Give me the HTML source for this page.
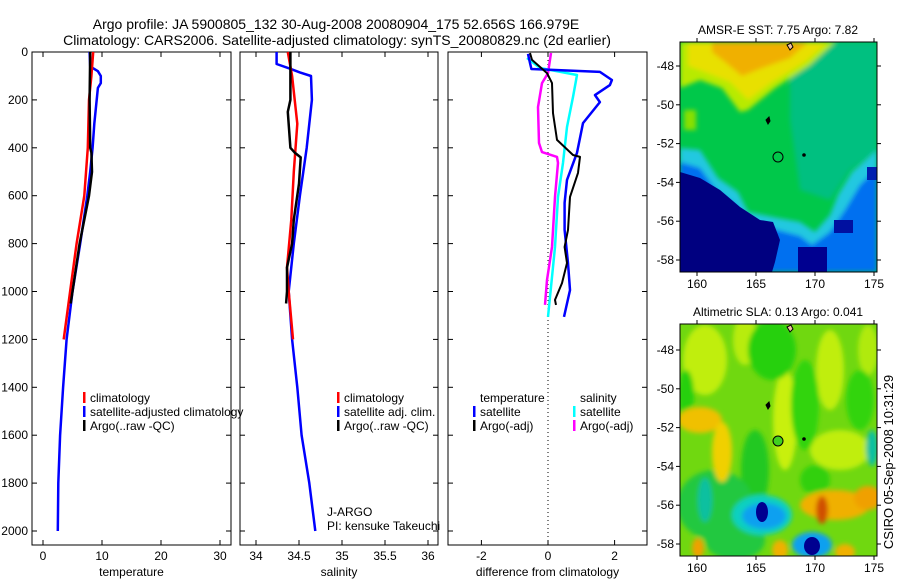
<!DOCTYPE html>
<html><head><meta charset="utf-8"><style>
html,body{margin:0;padding:0;background:#fff;}
svg{display:block;font-family:"Liberation Sans",sans-serif;}
</style></head><body>
<svg id="fig" width="900" height="580" viewBox="0 0 900 580" xmlns="http://www.w3.org/2000/svg">
<defs>
<clipPath id="m1c"><rect x="680" y="42" width="197" height="230"/></clipPath>
<clipPath id="m2c"><rect x="680" y="324" width="197" height="232"/></clipPath>
<filter id="bl" x="-20%" y="-20%" width="140%" height="140%"><feGaussianBlur stdDeviation="2.5"/></filter>
</defs>
<g font-size="14" text-anchor="middle">
<text x="336" y="29">Argo profile: JA 5900805_132 30-Aug-2008 20080904_175 52.656S 166.979E</text>
<text x="337" y="45">Climatology: CARS2006. Satellite-adjusted climatology: synTS_20080829.nc (2d earlier)</text>
</g>
<g id="panels"></g>

<!-- Map 1 -->
<g>
<text x="778" y="34" font-size="12" text-anchor="middle">AMSR-E SST: 7.75 Argo: 7.82</text>
<g clip-path="url(#m1c)">
<rect x="680" y="42" width="197" height="230" fill="#00c84a"/>
<g filter="url(#bl)">
<polygon points="790,42 877,42 877,150 850,170 830,200 800,190 790,120" fill="#00c080"/>
<polygon points="680,42 835,42 810,65 775,88 748,110 740,112 722,88 700,80 680,88" fill="#b8ea00"/>
<polygon points="688,42 828,42 805,62 772,82 748,100 730,82 705,72 688,66" fill="#e8e000"/>
<polygon points="712,42 808,42 790,58 762,68 742,76 725,62 712,52" fill="#f0b000"/>
<polygon points="680,148 700,150 718,178 738,192 748,212 778,218 800,222 815,232 830,215 838,195 852,172 877,150 877,272 680,272" fill="#20c8e0"/>
<polygon points="680,162 700,168 716,190 736,205 745,222 770,228 800,236 812,245 830,232 845,210 860,185 877,168 877,272 680,272" fill="#0070f0"/>
<rect x="684" y="110" width="12" height="20" fill="#88e000"/>
</g>
<polygon points="680,172 700,178 720,190 740,207 760,220 773,222 780,240 775,262 772,272 680,272" fill="#000080"/>
<rect x="798" y="247" width="29" height="25" fill="#000090"/>
<rect x="834" y="220" width="19" height="13" fill="#0010a0"/>
<rect x="867" y="167" width="10" height="13" fill="#0020b0"/>
</g>
<circle cx="778" cy="157" r="5" fill="none" stroke="#000" stroke-width="1"/>
<circle cx="804" cy="155" r="1.8" fill="#000"/>
<path d="M766,120 l3,-3 l1,4 l-2,3 z" fill="#000" stroke="#000"/>
<path d="M787,45 l4,-2 l2,4 l-3,3 z" fill="#f0c0a0" stroke="#000"/>
<rect x="680" y="42" width="197" height="230" fill="none" stroke="#000"/>
</g>

<!-- Map 2 -->
<g>
<text x="778" y="316" font-size="12" text-anchor="middle">Altimetric SLA: 0.13 Argo: 0.041</text>
<g clip-path="url(#m2c)">
<rect x="680" y="324" width="197" height="232" fill="#70d810"/>
<g filter="url(#bl)">
<ellipse cx="705" cy="360" rx="22" ry="35" fill="#c0ee10"/>
<ellipse cx="745" cy="340" rx="12" ry="25" fill="#b8ec10"/>
<ellipse cx="830" cy="370" rx="14" ry="40" fill="#c0ee10"/>
<ellipse cx="868" cy="350" rx="10" ry="25" fill="#b0ea10"/>
<ellipse cx="785" cy="420" rx="12" ry="50" fill="#c8f010"/>
<ellipse cx="840" cy="450" rx="30" ry="20" fill="#c0ee10"/>
<ellipse cx="772" cy="350" rx="24" ry="30" fill="#28d010"/>
<ellipse cx="686" cy="395" rx="8" ry="25" fill="#28d010"/>
<ellipse cx="805" cy="405" rx="14" ry="45" fill="#30d410"/>
<ellipse cx="860" cy="400" rx="14" ry="30" fill="#30d410"/>
<ellipse cx="755" cy="470" rx="14" ry="40" fill="#20c820"/>
<ellipse cx="715" cy="505" rx="38" ry="35" fill="#20c840"/>
<ellipse cx="705" cy="500" rx="7" ry="22" fill="#10c0a0"/>
<ellipse cx="735" cy="540" rx="30" ry="20" fill="#20c840"/>
<ellipse cx="815" cy="480" rx="15" ry="15" fill="#30d010"/>
<ellipse cx="872" cy="448" rx="6" ry="18" fill="#10c0a0"/>
<ellipse cx="700" cy="420" rx="22" ry="13" fill="#f0c000"/>
<ellipse cx="722" cy="452" rx="10" ry="30" fill="#f0d000"/>
<ellipse cx="835" cy="505" rx="35" ry="15" fill="#f0b000"/>
<ellipse cx="822" cy="510" rx="6" ry="14" fill="#d05000"/>
<ellipse cx="868" cy="498" rx="14" ry="12" fill="#f0a000"/>
<ellipse cx="698" cy="548" rx="6" ry="10" fill="#f0a000"/>
<ellipse cx="780" cy="550" rx="8" ry="10" fill="#f0b000"/>
<ellipse cx="845" cy="552" rx="10" ry="8" fill="#f0b000"/>
<ellipse cx="762" cy="515" rx="30" ry="20" fill="#10d0c0"/>
<ellipse cx="764" cy="516" rx="22" ry="13" fill="#10a0f0"/>
<ellipse cx="812" cy="545" rx="20" ry="13" fill="#10a0f0"/>
</g>
<ellipse cx="762" cy="512" rx="6" ry="10" fill="#000090"/>
<ellipse cx="812" cy="546" rx="8" ry="9" fill="#000090"/>
</g>
<circle cx="778" cy="441" r="5" fill="#40d020" stroke="#000" stroke-width="1"/>
<circle cx="804" cy="439" r="1.8" fill="#000"/>
<path d="M766,405 l3,-3 l1,4 l-2,3 z" fill="#000" stroke="#000"/>
<path d="M787,327 l4,-2 l2,4 l-3,3 z" fill="#f0c0a0" stroke="#000"/>
<rect x="680" y="324" width="197" height="232" fill="none" stroke="#000"/>
</g>
<text transform="translate(893,462) rotate(-90)" font-size="13" text-anchor="middle">CSIRO 05-Sep-2008 10:31:29</text>
</svg>
<script>
// ---- data ----
const tempArgoDepth = [0,200,400,420,500,600,800,1000,1050];
const tempArgo      = [8,7.9,8.0,8.2,8.3,7.8,6.2,5.0,4.7];
const tempClimDepth = [0,100,200,400,600,800,1000,1200];
const tempClim      = [8.5,8.2,7.8,7.6,7.0,5.7,4.6,3.5];
const tempSatDepth  = [0,60,80,100,130,150,300,400,500,600,800,1000,1200,1400,1600,1800,2000];
const tempSat       = [7.9,8.0,9.3,9.8,9.8,9.3,8.7,8.4,8.0,7.5,6.3,5.0,4.0,3.4,2.9,2.6,2.5];

const salSatDepth = [0,50,70,85,100,200,300,400,500,600,800,1000,1200,1400,1600,1800,2000];
const salSat      = [34.24,34.24,34.4,34.51,34.64,34.65,34.62,34.59,34.55,34.51,34.44,34.38,34.42,34.48,34.53,34.62,34.69];
const salClimDepth = [0,100,300,500,700,900,1000,1200];
const salClim      = [34.37,34.42,34.48,34.44,34.41,34.36,34.38,34.43];
const salArgoDepth = [0,200,250,400,420,440,550,700,800,900,1000,1050];
const salArgo      = [34.40,34.40,34.37,34.40,34.45,34.52,34.50,34.44,34.42,34.36,34.36,34.35];

const dTempSatDepth = [8,46,71,83,117,138,180,209,297,421,534,630,743,881,994,1106];
const dTempSat      = [-0.6,-0.54,-0.5,1.56,1.92,1.86,1.41,1.56,1.05,0.87,0.57,0.5,0.5,0.6,0.66,0.48];
const dTempArgoDepth = [4,33,88,130,255,367,430,438,505,605,743,814,881,965,1035,1056];
const dTempArgo      = [-0.54,-0.48,-0.03,0.12,0.15,0.27,0.75,0.96,0.9,0.66,0.6,0.5,0.57,0.42,0.21,0.24];
const dSalSatDepth = [25,67,96,188,313,463,605,814,1023,1106];
const dSalSat      = [-0.63,-0.24,0.87,0.75,0.57,0.45,0.3,0.21,0.06,0];
const dSalArgoDepth = [4,88,130,230,380,418,438,463,605,814,952,1056];
const dSalArgo      = [0.09,0,-0.18,-0.3,-0.27,-0.18,0.27,0.3,0.21,0.12,-0.03,-0.09];

const depthTicks = [0,200,400,600,800,1000,1200,1400,1600,1800,2000];
const tempTicks = [0,10,20,30];
const salTicks = [34,34.5,35,35.5,36];
const salTickLabels = ["34","34.5","35","35.5","36"];
const diffTicks = [-2,0,2];

// ---- axes ----
const NS="http://www.w3.org/2000/svg";
const fig=document.getElementById('panels');
const top0=52, bot=545, yScale=d=>52+d*0.2395;
function mk(tag,attrs,parent){const e=document.createElementNS(NS,tag);for(const k in attrs)e.setAttribute(k,attrs[k]);(parent||fig).appendChild(e);return e;}
function panel(name,x0,x1,xs,ticks,labels,title,showY){
  const g=mk('g',{});
  
  
  const r=mk('rect',{x:x0,y:top0,width:x1-x0,height:bot-top0,fill:'none',stroke:'#000','stroke-width':1},g);
  
  
  ticks.forEach((t,i)=>{
    const x=xs(t);
    mk('line',{x1:x,x2:x,y1:bot,y2:bot-5,stroke:'#000'},g);
    mk('line',{x1:x,x2:x,y1:top0,y2:top0+5,stroke:'#000'},g);
    const tx=mk('text',{x:x,y:bot+15,'font-size':12,'text-anchor':'middle'},g);
    tx.textContent=labels[i];
    
    
  });
  depthTicks.forEach(d=>{
    const y=yScale(d);
    mk('line',{x1:x0,x2:x0+5,y1:y,y2:y,stroke:'#000'},g);
    mk('line',{x1:x1,x2:x1-5,y1:y,y2:y,stroke:'#000'},g);
    if(showY){const tx=mk('text',{x:x0-4,y:y+4,'font-size':12,'text-anchor':'end'},g);tx.textContent=d;
      
      }
  });
  const at=mk('text',{x:(x0+x1)/2,y:576,'font-size':12,'text-anchor':'middle'},g);
  at.textContent=title;
  
  
  return g;
}
function line(g,name,xs,vals,depths,color,w){
  const pts=vals.map((v,i)=>xs(v).toFixed(1)+','+yScale(depths[i]).toFixed(1)).join(' ');
  const p=mk('polyline',{points:pts,fill:'none',stroke:color,'stroke-width':w||2.5,'stroke-linejoin':'round'},g);
  
  
}
function legend(g,x,y,items){
  items.forEach((it,i)=>{
    const yy=y+i*14;
    if(it[1]) mk('rect',{x:x,y:yy-10,width:2.5,height:11,fill:it[1]},g);
    const t=mk('text',{x:x+7,y:yy,'font-size':12},g);t.textContent=it[0];
    
    
  });
}
// temperature panel
const xT=v=>43+v*5.9;
const gT=panel('temperature',32,231,xT,tempTicks,tempTicks.map(String),'temperature',true);
line(gT,'temp-satellite-line',xT,tempSat,tempSatDepth,'#0000ff');
line(gT,'temp-climatology-line',xT,tempClim,tempClimDepth,'#ff0000');
line(gT,'temp-argo-line',xT,tempArgo,tempArgoDepth,'#000000');
legend(gT,83,402,[['climatology','#f00'],['satellite-adjusted climatology','#00f'],['Argo(..raw -QC)','#000']]);
// salinity panel
const xS=v=>256+(v-34)*86;
const gS=panel('salinity',240,438,xS,salTicks,salTickLabels,'salinity',false);
line(gS,'sal-satellite-line',xS,salSat,salSatDepth,'#0000ff');
line(gS,'sal-climatology-line',xS,salClim,salClimDepth,'#ff0000');
line(gS,'sal-argo-line',xS,salArgo,salArgoDepth,'#000000');
legend(gS,337,402,[['climatology','#f00'],['satellite adj. clim.','#00f'],['Argo(..raw -QC)','#000']]);
legend(gS,320,516,[['J-ARGO',null],['PI: kensuke Takeuchi',null]]);
// difference panel
const xD=v=>548+v*33.3;
const gD=panel('difference',448,647,xD,diffTicks,diffTicks.map(String),'difference from climatology',false);
const zl=mk('line',{x1:xD(0),x2:xD(0),y1:top0,y2:bot,stroke:'#000','stroke-dasharray':'1,3'},gD);


line(gD,'diff-sal-argo-line',xD,dSalArgo,dSalArgoDepth,'#ff00ff');
line(gD,'diff-sal-satellite-line',xD,dSalSat,dSalSatDepth,'#00ffff');
line(gD,'diff-temp-satellite-line',xD,dTempSat,dTempSatDepth,'#0000ff');
line(gD,'diff-temp-argo-line',xD,dTempArgo,dTempArgoDepth,'#000000',2);
legend(gD,473,402,[['temperature',null],['satellite','#00f'],['Argo(-adj)','#000']]);
legend(gD,573,402,[['salinity',null],['satellite','#0ff'],['Argo(-adj)','#f0f']]);
// map ticks
function mapTicks(y0,y1,latTop){
  const g=mk('g',{});
  
  
  [160,165,170,175].forEach(l=>{const x=697+(l-160)*11.8;
    mk('line',{x1:x,x2:x,y1:y1,y2:y1+4,stroke:'#000'},g);mk('line',{x1:x,x2:x,y1:y0,y2:y0-4,stroke:'#000'},g);
    const t=mk('text',{x:x,y:y1+16,'font-size':12,'text-anchor':'middle'},g);t.textContent=l;});
  [-48,-50,-52,-54,-56,-58].forEach(la=>{const y=latTop+(-48-la)*19.4;
    mk('line',{x1:680,x2:676,y1:y,y2:y,stroke:'#000'},g);mk('line',{x1:877,x2:881,y1:y,y2:y,stroke:'#000'},g);
    const t=mk('text',{x:674,y:y+4,'font-size':12,'text-anchor':'end'},g);t.textContent=la;});
}
mapTicks(42,272,66);
mapTicks(324,556,350);
</script>
</body></html>
